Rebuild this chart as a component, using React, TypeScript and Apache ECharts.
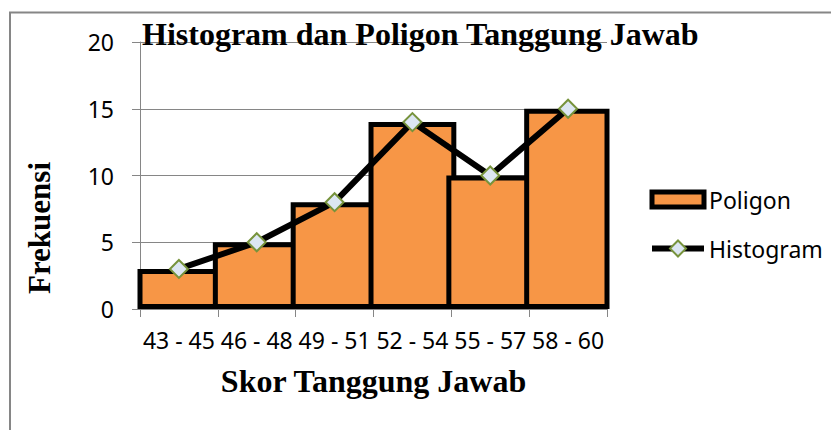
import React, { useEffect, useRef } from "react";
import * as echarts from "echarts";

const categories = ["43 - 45", "46 - 48", "49 - 51", "52 - 54", "55 - 57", "58 - 60"];
const poligonValues = [3, 5, 8, 14, 10, 15];
const histogramValues = [3, 5, 8, 14, 10, 15];
const titleText = "Histogram dan Poligon Tanggung Jawab";
const xName = "Skor Tanggung Jawab";
const yName = "Frekuensi";

export default function App() {
  const ref = useRef<HTMLDivElement>(null);
  useEffect(() => {
    if (!ref.current) return;
    const chart = echarts.init(ref.current, null, { renderer: "svg" });
    const sans = "Noto Sans";
    const serif = "Liberation Serif";
    const gray = "#868686";
    chart.setOption({
      animation: false,
      backgroundColor: "#fff",
      title: {
        text: titleText,
        left: 142,
        top: 18,
        padding: 0,
        textStyle: { fontFamily: serif, fontWeight: "bold", fontSize: 32, color: "#000" },
      },
      grid: { left: 140, right: 224, top: 42, bottom: 121 },
      legend: {
        orient: "vertical",
        left: 644,
        top: 182,
        itemWidth: 52,
        itemHeight: 20,
        itemGap: 25,
        textStyle: { fontFamily: sans, fontSize: 23, color: "#000" },
        data: [
          {
            name: "Poligon",
            icon: "path://M0,0 M0,20 M0,2.5 L52,2.5 L52,17.5 L0,17.5 Z",
            itemStyle: { color: "#F79646", borderColor: "#000", borderWidth: 5 },
          },
          {
            name: "Histogram",
            itemStyle: { color: "#DCE6F2", borderColor: "#77933C", borderWidth: 2 },
            lineStyle: { color: "#000", width: 6 },
          },
        ],
      },
      xAxis: {
        type: "category",
        data: categories,
        name: xName,
        nameLocation: "middle",
        nameGap: 56,
        nameTextStyle: { fontFamily: serif, fontWeight: "bold", fontSize: 32, color: "#000" },
        axisLine: { show: true, lineStyle: { color: gray, width: 1 } },
        axisTick: { show: true, length: 8, lineStyle: { color: gray } },
        axisLabel: { interval: 0, fontFamily: sans, fontSize: 23, color: "#000", margin: 19 },
      },
      yAxis: {
        type: "value",
        min: 0,
        max: 20,
        interval: 5,
        axisLine: { show: true, lineStyle: { color: gray, width: 1 } },
        axisTick: { show: true, length: 8, lineStyle: { color: gray } },
        splitLine: { show: true, lineStyle: { color: gray, width: 1 } },
        axisLabel: { fontFamily: sans, fontSize: 23, color: "#000", margin: 26 },
      },
      graphic: [
        { type: "line", shape: { x1: 9, y1: 12.5, x2: 831, y2: 12.5 }, style: { stroke: gray, lineWidth: 2 } },
        { type: "line", shape: { x1: 10, y1: 12, x2: 10, y2: 430 }, style: { stroke: gray, lineWidth: 2 } },
        {
          type: "text",
          x: 39,
          y: 228,
          rotation: Math.PI / 2,
          style: {
            text: yName,
            fontFamily: serif,
            fontWeight: "bold",
            fontSize: 31,
            fill: "#000",
            align: "center",
            verticalAlign: "middle",
          },
        },
      ],
      series: [
        {
          name: "Poligon",
          type: "bar",
          data: poligonValues,
          barWidth: 87.8,
          itemStyle: { color: "#F79646", borderColor: "#000", borderWidth: 5 },
          z: 2,
        },
        {
          name: "Histogram",
          type: "line",
          data: histogramValues,
          symbol: "diamond",
          symbolSize: 18,
          lineStyle: { color: "#000", width: 6 },
          itemStyle: { color: "#DCE6F2", borderColor: "#77933C", borderWidth: 2 },
          z: 3,
        },
      ],
    });
    return () => chart.dispose();
  }, []);
  return <div ref={ref} style={{ position: "absolute", left: 0, top: 0, width: 831, height: 430 }} />;
}
